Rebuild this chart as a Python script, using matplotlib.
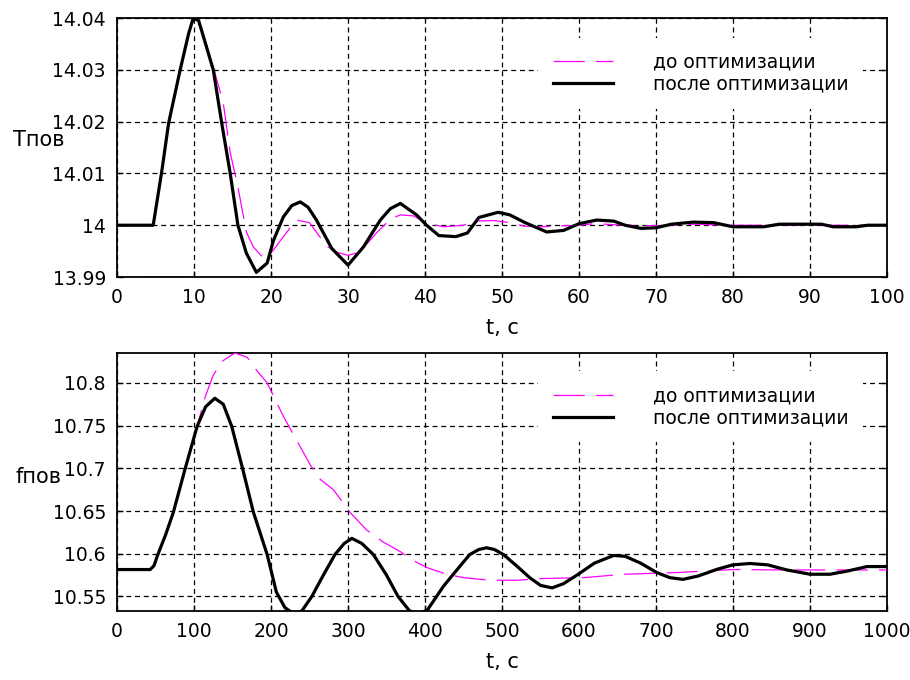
import matplotlib
matplotlib.use("Agg")
import matplotlib.pyplot as plt
import numpy as np

plt.rcParams['font.family'] = ['DejaVu Sans']

# ------------------------------------------------------------------
# DATA
# ------------------------------------------------------------------
# upper plot: surface temperature, t = 0..100 s
t_T_after = [0, 4.7, 5.8, 6.7, 8.2, 9.3, 9.9, 10.6, 12.5, 13.6, 14.7, 15.7, 16.8,
             18.1, 19.5, 20.3, 21.6, 22.7, 23.8, 24.8, 25.9, 27.9, 30, 32, 34.2,
             35.5, 36.8, 38.9, 40.2, 41.8, 44, 45.5, 47, 49.5, 51, 53, 55.8, 58,
             60, 62.3, 64.5, 66, 68, 70, 72, 74.8, 77.5, 80, 84, 86, 89, 91.5, 93,
             96, 97.5, 100]
T_after = [14.0, 14.0, 14.0103, 14.0197, 14.030, 14.037, 14.040, 14.0395, 14.030,
           14.0197, 14.010, 14.000, 13.9946, 13.9909, 13.9927, 13.997, 14.0016,
           14.0038, 14.0045, 14.0035, 14.001, 13.9955, 13.9923, 13.9958, 14.001,
           14.0032, 14.0042, 14.002, 14.000, 13.998, 13.9978, 13.9985, 14.0015,
           14.0025, 14.002, 14.0005, 13.9987, 13.999, 14.0003, 14.001, 14.0008,
           14.0, 13.9994, 13.9995, 14.0002, 14.0006, 14.0005, 13.9997, 13.9997,
           14.0002, 14.0002, 14.0002, 13.9997, 13.9997, 14.0, 14.0]

t_T_before = [0, 4.7, 5.8, 6.7, 8.2, 9.3, 9.9, 11, 12.6, 13.8, 14.7, 15.7, 16.8,
              17.7, 19, 20.2, 21.6, 23.3, 25, 27.2, 28.5, 30, 31.5, 33.7, 35.5,
              36.8, 38.5, 40.2, 42.4, 45, 46.5, 49, 51, 53, 55, 58, 60, 62, 66,
              70, 75, 80, 100]
T_before = [14.0, 14.0, 14.0103, 14.0197, 14.030, 14.037, 14.040, 14.038, 14.030,
            14.0236, 14.014, 14.0074, 13.9987, 13.9958, 13.9937, 13.995, 13.9978,
            14.001, 14.0005, 13.996, 13.9948, 13.9942, 13.9948, 13.9985, 14.0012,
            14.002, 14.0018, 14.0004, 13.9997, 14.0, 14.0008, 14.0009, 14.0005,
            13.9998, 13.9997, 13.9999, 14.0, 14.0003, 14.0, 13.9999, 14.0002,
            14.0, 14.0]

# lower plot: f, t = 0..1000 s
t_f_after = [0, 43, 48, 53, 63, 73, 88, 104, 115, 127, 138, 149, 163, 177, 195,
             207, 218, 229, 240, 253, 268, 283, 295, 305, 318, 333, 350, 365, 380,
             392, 403, 424, 445, 458, 470, 480, 490, 502, 520, 536, 550, 565, 580,
             599, 620, 645, 660, 680, 701, 718, 735, 755, 780, 800, 822, 845, 870,
             900, 926, 950, 974, 1000]
f_after = [10.5815, 10.5815, 10.586, 10.599, 10.622, 10.648, 10.698, 10.749,
           10.772, 10.782, 10.775, 10.749, 10.700, 10.649, 10.599, 10.555, 10.537,
           10.530, 10.533, 10.550, 10.575, 10.599, 10.612, 10.618, 10.612, 10.599,
           10.575, 10.550, 10.533, 10.530, 10.534, 10.562, 10.585, 10.599, 10.605,
           10.607, 10.605, 10.599, 10.585, 10.572, 10.563, 10.560, 10.565, 10.576,
           10.589, 10.598, 10.597, 10.589, 10.578, 10.572, 10.570, 10.574, 10.582,
           10.587, 10.5886, 10.587, 10.581, 10.576, 10.576, 10.580, 10.585, 10.585]

t_f_before = [0, 43, 48, 53, 63, 73, 88, 104, 115, 125, 136, 153, 169, 181, 195,
              216, 235, 251, 264, 281, 303, 324, 345, 367, 385, 402, 428, 450, 484,
              520, 553, 606, 658, 727, 800, 866, 1000]
f_before = [10.5815, 10.5815, 10.586, 10.599, 10.622, 10.648, 10.698, 10.749,
            10.785, 10.809, 10.825, 10.835, 10.830, 10.815, 10.800, 10.761, 10.730,
            10.704, 10.687, 10.675, 10.648, 10.628, 10.614, 10.603, 10.592, 10.584,
            10.576, 10.572, 10.569, 10.569, 10.571, 10.572, 10.576, 10.578, 10.5815,
            10.581, 10.581]

T_ticks = [13.99, 14.0, 14.01, 14.02, 14.03, 14.04]
T_ticklabels = ["13.99", "14", "14.01", "14.02", "14.03", "14.04"]
f_ticks = [10.55, 10.6, 10.65, 10.7, 10.75, 10.8]
f_ticklabels = ["10.55", "10.6", "10.65", "10.7", "10.75", "10.8"]
t1_ticks = [0, 10, 20, 30, 40, 50, 60, 70, 80, 90, 100]
t2_ticks = [0, 100, 200, 300, 400, 500, 600, 700, 800, 900, 1000]

label_before = "до оптимизации"
label_after = "после оптимизации"

FS_TICK = 13.5
FS_LABEL = 15
FS_LEG = 13.5


def style_axes(ax):
    ax.grid(True, color="black", linestyle=(0, (4, 3)), linewidth=0.9)
    ax.tick_params(direction="in", length=4, width=1, top=False, right=True,
                   labelsize=FS_TICK, pad=8)
    for sp in ax.spines.values():
        sp.set_linewidth(1.3)
    ax.set_xlabel("t, c", fontsize=FS_LABEL, labelpad=8)


def add_legend(ax, h1, h2, anchor):
    leg = ax.legend([h1, h2], [label_before, label_after], loc="upper left",
                    bbox_to_anchor=anchor, fontsize=FS_LEG, frameon=True,
                    framealpha=1, facecolor="white", edgecolor="none",
                    handlelength=3.2, handletextpad=2.1, labelspacing=0.15,
                    borderpad=0.8, fancybox=False)
    leg.set_zorder(5)


fig = plt.figure(figsize=(9.1, 6.8), dpi=100)
ax1 = fig.add_axes([0.1286, 0.5926, 0.8461, 0.3809])
ax2 = fig.add_axes([0.1286, 0.1015, 0.8461, 0.3794])

# ------------------------------------------------------------------
# UPPER PLOT
# ------------------------------------------------------------------
p1, = ax1.plot(t_T_before, T_before, color="magenta", linewidth=0.9,
               dashes=(25, 9), zorder=3)
b1, = ax1.plot(t_T_after, T_after, color="black", linewidth=2.3, zorder=4)
ax1.set_xlim(0, 100)
ax1.set_ylim(13.99, 14.04)
ax1.set_xticks(t1_ticks)
ax1.set_yticks(T_ticks)
ax1.set_yticklabels(T_ticklabels)
style_axes(ax1)
add_legend(ax1, p1, b1, (0.535, 0.96))
fig.text(13 / 910, 1 - 140 / 680, "Тпов", fontsize=FS_LABEL, va="center", ha="left")

# ------------------------------------------------------------------
# LOWER PLOT
# ------------------------------------------------------------------
p2, = ax2.plot(t_f_before, f_before, color="magenta", linewidth=0.9,
               dashes=(25, 9), zorder=3)
b2, = ax2.plot(t_f_after, f_after, color="black", linewidth=2.3, zorder=4)
ax2.set_xlim(0, 1000)
ax2.set_ylim(10.533, 10.835)
ax2.set_xticks(t2_ticks)
ax2.set_yticks(f_ticks)
ax2.set_yticklabels(f_ticklabels)
style_axes(ax2)
add_legend(ax2, p2, b2, (0.535, 0.965))
fig.text(16 / 910, 1 - 477 / 680, "fпов", fontsize=FS_LABEL, va="center", ha="left")

fig.savefig("out.png", dpi=100)
